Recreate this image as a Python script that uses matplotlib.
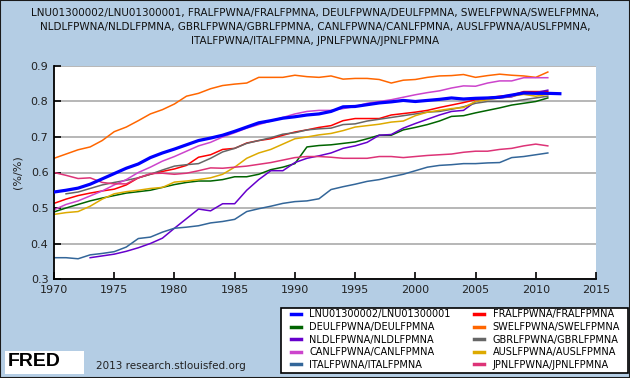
import numpy as np
import matplotlib
matplotlib.use("Agg")
import matplotlib.pyplot as plt
from matplotlib.patches import Rectangle

# Years
years = np.arange(1970, 2012)

# Ratio of female to male labour force participation
usa = [0.545, 0.550, 0.556, 0.567, 0.582, 0.597, 0.612, 0.624, 0.642, 0.655,
       0.666, 0.678, 0.690, 0.697, 0.705, 0.716, 0.728, 0.740, 0.746, 0.753,
       0.757, 0.762, 0.765, 0.772, 0.785, 0.786, 0.791, 0.796, 0.799, 0.803,
       0.800, 0.803, 0.806, 0.810, 0.807, 0.809, 0.810, 0.812, 0.818, 0.824,
       0.823, 0.823, 0.822]
usa_years = np.arange(1970, 2013)

fra = [0.513, 0.525, 0.535, 0.542, 0.548, 0.553, 0.565, 0.585, 0.595, 0.603,
       0.610, 0.620, 0.643, 0.650, 0.665, 0.668, 0.683, 0.690, 0.695, 0.705,
       0.714, 0.720, 0.727, 0.732, 0.746, 0.752, 0.752, 0.752, 0.762, 0.766,
       0.770, 0.775, 0.783, 0.790, 0.797, 0.805, 0.810, 0.815, 0.818, 0.828,
       0.828, 0.828]

deu = [0.489, 0.500, 0.510, 0.520, 0.528, 0.535, 0.542, 0.546, 0.550, 0.558,
       0.566, 0.572, 0.576, 0.576, 0.580, 0.588, 0.588, 0.595, 0.608, 0.615,
       0.625, 0.672, 0.676, 0.678, 0.682, 0.686, 0.695, 0.705, 0.705, 0.720,
       0.727, 0.735, 0.745, 0.758, 0.760, 0.768, 0.775, 0.782, 0.790, 0.795,
       0.800, 0.810]

swe = [0.640, 0.652, 0.664, 0.672, 0.690, 0.715, 0.728, 0.746, 0.765, 0.777,
       0.793, 0.815, 0.823, 0.836, 0.845, 0.849, 0.852, 0.868, 0.868, 0.868,
       0.874, 0.870, 0.868, 0.872, 0.863, 0.865, 0.865, 0.862, 0.852, 0.860,
       0.862, 0.868, 0.872, 0.873, 0.876, 0.868, 0.873, 0.877, 0.874, 0.872,
       0.868, 0.883]

nld = [0.360, 0.365, 0.370, 0.378, 0.388, 0.400, 0.415, 0.443, 0.470, 0.497,
       0.492, 0.512, 0.512, 0.550, 0.580, 0.605, 0.605, 0.628, 0.640, 0.647,
       0.655, 0.668, 0.675, 0.685, 0.705, 0.707, 0.725, 0.738, 0.750, 0.762,
       0.772, 0.775, 0.800, 0.808, 0.810, 0.813, 0.825, 0.825, 0.832]
nld_years = np.arange(1973, 2012)

gbr = [0.540, 0.545, 0.555, 0.565, 0.572, 0.578, 0.585, 0.595, 0.607,
       0.618, 0.622, 0.625, 0.640, 0.658, 0.668, 0.682, 0.690, 0.698, 0.708,
       0.712, 0.720, 0.723, 0.725, 0.735, 0.737, 0.745, 0.750, 0.755, 0.760,
       0.765, 0.770, 0.772, 0.778, 0.785, 0.795, 0.800, 0.800, 0.800, 0.805,
       0.810, 0.815]
gbr_years = np.arange(1971, 2012)

can = [0.495, 0.510, 0.520, 0.534, 0.548, 0.565, 0.580, 0.600, 0.615, 0.632,
       0.645, 0.660, 0.675, 0.685, 0.700, 0.712, 0.725, 0.735, 0.745, 0.755,
       0.765, 0.772, 0.775, 0.775, 0.780, 0.786, 0.795, 0.800, 0.805, 0.812,
       0.819, 0.825, 0.830, 0.838, 0.844, 0.843, 0.852, 0.858, 0.858, 0.867,
       0.867, 0.867]

aus = [0.482, 0.487, 0.490, 0.505, 0.525, 0.540, 0.546, 0.550, 0.555, 0.558,
       0.573, 0.576, 0.580, 0.585, 0.595, 0.615, 0.640, 0.655, 0.665, 0.680,
       0.695, 0.700, 0.706, 0.710, 0.718, 0.728, 0.732, 0.736, 0.742, 0.745,
       0.760, 0.770, 0.775, 0.780, 0.783, 0.800, 0.805, 0.810, 0.815, 0.820,
       0.815, 0.820]

ita = [0.360, 0.360, 0.357, 0.368, 0.372, 0.377, 0.390, 0.414, 0.418, 0.432,
       0.443, 0.446, 0.450, 0.458, 0.462, 0.468, 0.490, 0.498, 0.505, 0.513,
       0.518, 0.520, 0.526, 0.552, 0.560, 0.567, 0.575, 0.580, 0.588, 0.595,
       0.605, 0.615, 0.620, 0.622, 0.625, 0.625, 0.627, 0.628, 0.642, 0.645,
       0.650, 0.655]

jpn = [0.600, 0.592, 0.583, 0.585, 0.572, 0.568, 0.568, 0.585, 0.597, 0.598,
       0.595, 0.598, 0.605, 0.613, 0.612, 0.615, 0.618, 0.623, 0.628, 0.635,
       0.642, 0.645, 0.645, 0.643, 0.640, 0.640, 0.640, 0.645, 0.645, 0.642,
       0.645, 0.648, 0.650, 0.652, 0.657, 0.660, 0.660, 0.665, 0.668, 0.675,
       0.680, 0.675]

title = ("LNU01300002/LNU01300001, FRALFPWNA/FRALFPMNA, DEULFPWNA/DEULFPMNA, SWELFPWNA/SWELFPMNA,\n"
         "NLDLFPWNA/NLDLFPMNA, GBRLFPWNA/GBRLFPMNA, CANLFPWNA/CANLFPMNA, AUSLFPWNA/AUSLFPMNA,\n"
         "ITALFPWNA/ITALFPMNA, JPNLFPWNA/JPNLFPMNA")

BG = "#b4cde4"
W, H = 630, 378


def fig_box(x0, y0, x1, y1):
    # pixel box (top-left origin) -> figure fraction rect
    return (x0 / W, 1 - y1 / H, (x1 - x0) / W, (y1 - y0) / H)


fig = plt.figure(figsize=(6.3, 3.78), dpi=100, facecolor=BG)
fig.patches.append(Rectangle((0, 0), 1, 1, transform=fig.transFigure,
                             fill=False, edgecolor="#1a1a1a", linewidth=1.5))

ax = fig.add_axes(fig_box(54, 66, 596, 279))
ax.set_facecolor("white")

# Plot series
h_usa, = ax.plot(usa_years, usa, color="#0000ff", lw=2.3, label="LNU01300002/LNU01300001", zorder=5)
h_fra, = ax.plot(years, fra, color="#ff0000", lw=1.1, label="FRALFPWNA/FRALFPMNA")
h_deu, = ax.plot(years, deu, color="#006400", lw=1.1, label="DEULFPWNA/DEULFPMNA")
h_swe, = ax.plot(years, swe, color="#ff6600", lw=1.1, label="SWELFPWNA/SWELFPMNA")
h_nld, = ax.plot(nld_years, nld, color="#6600cc", lw=1.1, label="NLDLFPWNA/NLDLFPMNA")
h_gbr, = ax.plot(gbr_years, gbr, color="#666666", lw=1.1, label="GBRLFPWNA/GBRLFPMNA")
h_can, = ax.plot(years, can, color="#cc44cc", lw=1.1, label="CANLFPWNA/CANLFPMNA")
h_aus, = ax.plot(years, aus, color="#ddaa00", lw=1.1, label="AUSLFPWNA/AUSLFPMNA")
h_ita, = ax.plot(years, ita, color="#336699", lw=1.1, label="ITALFPWNA/ITALFPMNA")
h_jpn, = ax.plot(years, jpn, color="#dd3377", lw=1.1, label="JPNLFPWNA/JPNLFPMNA")

ax.set_xlim(1970, 2015)
ax.set_ylim(0.3, 0.9)
ax.set_xticks(np.arange(1970, 2016, 5))
ax.set_yticks(np.arange(0.3, 0.91, 0.1))
ax.set_yticklabels(["0.3", "0.4", "0.5", "0.6", "0.7", "0.8", "0.9"])
ax.grid(axis="y", color="#aaaaaa", lw=1.2)
ax.set_axisbelow(True)
for s in ["top", "right"]:
    ax.spines[s].set_visible(False)
for s in ["left", "bottom"]:
    ax.spines[s].set_color("black")
    ax.spines[s].set_linewidth(1.3)
ax.tick_params(direction="in", length=5, width=1.2, labelsize=8, colors="black",
               labelcolor="#222222", pad=4)
ax.set_ylabel("(%/%)", fontsize=8, color="#222222", labelpad=6)

fig.text(0.5, 1 - 27 / H, title, ha="center", va="center", fontsize=7.5,
         linespacing=1.45, color="#111111")

# Legend (row-major order like the original: fill column 1 then column 2)
fig.patches.append(Rectangle(fig_box(281, 308, 628, 373)[:2], 347 / W, 65 / H,
                             transform=fig.transFigure, facecolor="white",
                             edgecolor="black", linewidth=1.2))
col1 = [h_usa, h_deu, h_nld, h_can, h_ita]
col2 = [h_fra, h_swe, h_gbr, h_aus, h_jpn]
handles = col1 + col2
leg = fig.legend(handles, [h.get_label() for h in handles],
                 loc="upper left", bbox_to_anchor=(291 / W, 1 - 309.5 / H), ncol=2,
                 fontsize=7.0, frameon=False, handlelength=1.0,
                 handletextpad=0.9, columnspacing=2.4, labelspacing=0.26,
                 borderpad=0.0, borderaxespad=0.0)
for line in leg.get_lines():
    line.set_linewidth(2.5)

# FRED logo and source
fig.patches.append(Rectangle(fig_box(5, 351, 84, 374)[:2], 79 / W, 23 / H,
                             transform=fig.transFigure, facecolor="white", edgecolor="none"))
fig.text(8 / W, 1 - 362 / H, "FRED", fontsize=14, fontweight="bold", color="black",
         family="Liberation Sans", ha="left", va="center")
fig.text(96 / W, 1 - 366 / H, "2013 research.stlouisfed.org", fontsize=7.5,
         color="#222222", ha="left", va="center")

fig.savefig("out.png", dpi=100, facecolor=BG)
